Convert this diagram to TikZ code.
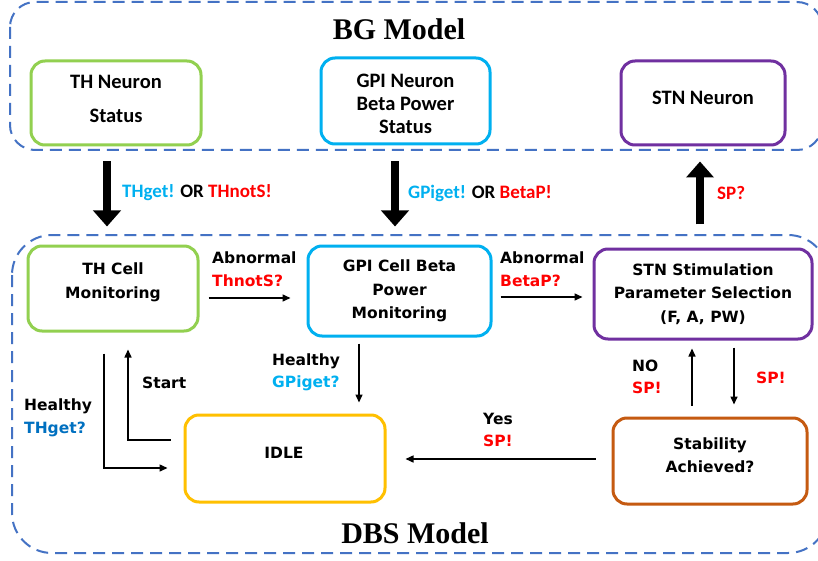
\documentclass[tikz,border=0pt]{standalone}
\usepackage{fontspec}
\newfontfamily\carl{Carlito}
\newfontfamily\dvs{DejaVu Sans}
\newfontfamily\lserif{Liberation Serif}
\usetikzlibrary{arrows.meta}
\definecolor{cgreen}{HTML}{92D050}
\definecolor{ccyan}{HTML}{00B0F0}
\definecolor{cpurple}{HTML}{7030A0}
\definecolor{cyellow}{HTML}{FFC000}
\definecolor{corange}{HTML}{C55A11}
\definecolor{cdash}{HTML}{4472C4}
\definecolor{cred}{HTML}{FF0000}
\definecolor{cblue}{HTML}{0070C0}
\begin{document}
\begin{tikzpicture}[x=1pt,y=-1pt,
  box/.style={draw=#1, line width=3pt, rounded corners=14pt, inner sep=0pt},
  toptxt/.style={font=\carl\bfseries\fontsize{20.5}{23}\selectfont, align=center, inner sep=0pt},
  lowtxt/.style={font=\dvs\bfseries\fontsize{15.5}{23.5}\selectfont, align=center, inner sep=0pt},
  lab/.style={font=\dvs\bfseries\fontsize{15.5}{22.5}\selectfont, align=left, inner sep=0pt, anchor=west},
  toplab/.style={font=\carl\bfseries\fontsize{19}{22}\selectfont, inner sep=0pt, anchor=west},
  ttl/.style={font=\lserif\bfseries\fontsize{30}{32}\selectfont, inner sep=0pt},
  outer/.style={draw=cdash, line width=2pt, dash pattern=on 12pt off 7pt},
  bigarr/.style={line width=8pt, -{Triangle[width=27pt,length=16pt]}},
  arr/.style={line width=1.5pt, -{Triangle[width=7pt,length=8pt]}}]
\useasboundingbox (0,0) rectangle (818,561);
\fill[white] (0,0) rectangle (818,561);

% outer dashed containers
\draw[outer, rounded corners=25pt] (10,2) rectangle (822,150);
\draw[outer, rounded corners=40pt] (12,235) rectangle (828,553);
\node[ttl] (bgt) at (399,29) {BG Model};
\node[ttl] (dbst) at (415,533) {DBS Model};

% BG model boxes
\node[box=cgreen, minimum width=170pt, minimum height=84pt] (thn) at (116,103) {};
\node[toptxt] (thnL) at (116,98.5) {TH Neuron\\[11pt]Status};
\node[box=ccyan, minimum width=169pt, minimum height=86pt] (gpn) at (405.5,101) {};
\node[toptxt] (gpnL) at (405.5,104) {GPI Neuron\\Beta Power\\Status};
\node[box=cpurple, minimum width=164pt, minimum height=84pt] (stn) at (703,103) {};
\node[toptxt] (stnL) at (703,98) {STN Neuron};

% DBS model boxes
\node[box=cgreen, minimum width=170pt, minimum height=85pt] (thc) at (113,288.5) {};
\node[lowtxt] (thcL) at (113,282.5) {TH Cell\\Monitoring};
\node[box=ccyan, minimum width=183pt, minimum height=90pt] (gpc) at (399.5,291) {};
\node[lowtxt] (gpcL) at (399.5,291) {GPI Cell Beta\\Power\\Monitoring};
\node[box=cpurple, minimum width=218pt, minimum height=90pt] (sts) at (703,294) {};
\node[lowtxt] (stsL) at (703,294) {STN Stimulation\\Parameter Selection\\(F, A, PW)};
\node[box=cyellow, minimum width=200pt, minimum height=87pt] (idle) at (285,458.5) {};
\node[lowtxt] (idleL) at (284,453) {IDLE};
\node[box=corange, minimum width=194pt, minimum height=86pt] (stab) at (710,461) {};
\node[lowtxt] (stabL) at (710,455) {Stability\\Achieved?};

% helper coordinates
\coordinate (xa) at (107,0);
\coordinate (xb) at (395,0);
\coordinate (xc) at (700,0);
\coordinate (ya) at (0,298);
\coordinate (yb) at (0,297);
\coordinate (xg) at (359,0);
\coordinate (xs) at (128,0);
\coordinate (ys) at (0,440);
\coordinate (xh) at (104,0);
\coordinate (yh) at (0,468);
\coordinate (xn) at (692,0);
\coordinate (xp) at (734,0);
\coordinate (yy) at (0,459);

% big arrows between models
\draw[bigarr, shorten <=15pt, shorten >=18pt] (xa |- thn.south) -- (xa |- thc.north);
\draw[bigarr, shorten <=16pt, shorten >=18pt] (xb |- gpn.south) -- (xb |- gpc.north);
\draw[bigarr, shorten <=23pt, shorten >=15pt] (xc |- sts.north) -- (xc |- stn.south);

\node[toplab] (l1) at (122,193) {\textcolor{ccyan}{THget!} OR \textcolor{cred}{THnotS!}};
\node[toplab] (l2) at (408,193) {\textcolor{ccyan}{GPiget!} OR \textcolor{cred}{BetaP!}};
\node[toplab] (l3) at (717,193) {\textcolor{cred}{SP?}};

% thin arrows
\draw[arr, shorten <=9pt, shorten >=16pt] (thc.east |- ya) -- (gpc.west |- ya);
\draw[arr, shorten <=8pt, shorten >=10pt] (gpc.east |- yb) -- (sts.west |- yb);
\draw[arr, shorten <=6pt, shorten >=11pt] (xg |- gpc.south) -- (xg |- idle.north);
\draw[arr, shorten <=13pt, shorten >=17pt] (idle.west |- ys) -- (xs |- ys) -- (xs |- thc.south);
\draw[arr, shorten <=21pt, shorten >=16pt] (xh |- thc.south) -- (xh |- yh) -- (idle.west |- yh);
\draw[arr, shorten <=11pt, shorten >=8pt] (xn |- stab.north) -- (xn |- sts.south);
\draw[arr, shorten <=7pt, shorten >=12pt] (xp |- sts.south) -- (xp |- stab.north);
\draw[arr, shorten <=16pt, shorten >=19pt] (stab.west |- yy) -- (idle.east |- yy);

% labels
\node[lab] (ab1) at (212,269) {Abnormal\\\textcolor{cred}{ThnotS?}};
\node[lab] (ab2) at (500,269) {Abnormal\\\textcolor{cred}{BetaP?}};
\node[lab] (hg) at (272,372.5) {Healthy\\\textcolor{ccyan}{GPiget?}};
\node[lab] (st) at (142,383) {Start};
\node[lab] (ht) at (24,418) {Healthy\\\textcolor{cblue}{THget?}};
\node[lab] (ys1) at (483,430) {Yes\\\textcolor{cred}{SP!}};
\node[lab] (no1) at (632,377) {NO\\\textcolor{cred}{SP!}};
\node[lab] (sp1) at (756,378) {\textcolor{cred}{SP!}};
\end{tikzpicture}
\end{document}
